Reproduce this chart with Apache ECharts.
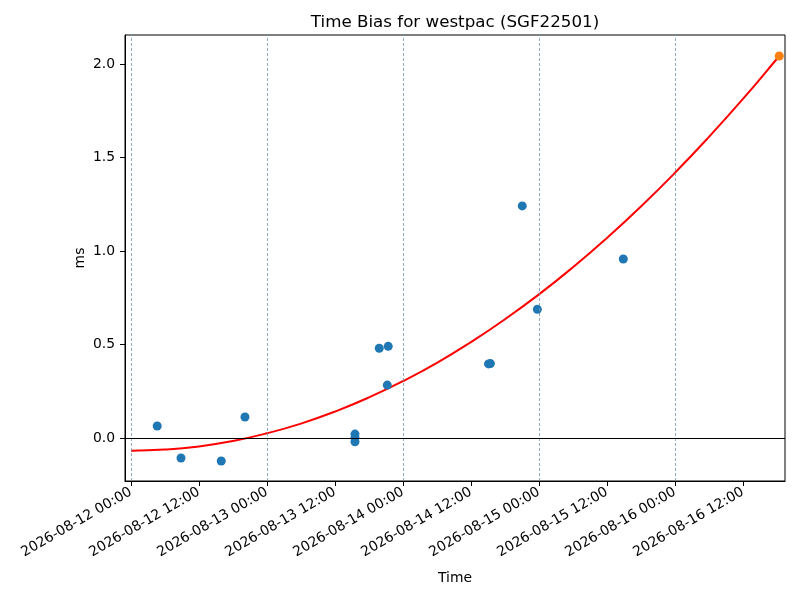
<!DOCTYPE html>
<html>
<head>
<meta charset="utf-8">
<script src="https://cdn.jsdelivr.net/npm/echarts@6/dist/echarts.min.js"></script>
<style>
  html, body { margin: 0; padding: 0; background: #fff; }
  #chart { width: 800px; height: 600px; }
</style>
</head>
<body>
<div id="chart"></div>
<script>
    // measured samples (blue), latest sample (orange), fitted curve (red)
    var sampleTimes = ['2026-08-12 04:38', '2026-08-12 08:50', '2026-08-12 15:56', '2026-08-12 20:07',
        '2026-08-13 15:32', '2026-08-13 15:32', '2026-08-13 15:32', '2026-08-13 19:49',
        '2026-08-13 21:24', '2026-08-13 21:14', '2026-08-14 15:06', '2026-08-14 15:26',
        '2026-08-14 21:03', '2026-08-14 23:43', '2026-08-15 14:53'];
    var sampleBias = [0.064, -0.107, -0.123, 0.112,
        0.021, 0.002, -0.020, 0.480,
        0.490, 0.283, 0.396, 0.398,
        1.241, 0.688, 0.957];
    var latestTime = ['2026-08-16 18:24'];
    var latestBias = [2.043];
    var fitTimes = ['2026-08-12 00:00', '2026-08-12 06:00', '2026-08-12 12:00', '2026-08-12 18:00',
        '2026-08-13 00:00', '2026-08-13 06:00', '2026-08-13 12:00', '2026-08-13 18:00',
        '2026-08-14 00:00', '2026-08-14 06:00', '2026-08-14 12:00', '2026-08-14 18:00',
        '2026-08-15 00:00', '2026-08-15 06:00', '2026-08-15 12:00', '2026-08-15 18:00',
        '2026-08-16 00:00', '2026-08-16 06:00', '2026-08-16 12:00', '2026-08-16 18:00',
        '2026-08-16 18:24'];
    var fitBias = [-0.068, -0.062, -0.045, -0.016,
        0.025, 0.077, 0.141, 0.217,
        0.304, 0.402, 0.513, 0.635,
        0.768, 0.913, 1.070, 1.238,
        1.418, 1.610, 1.813, 2.028,
        2.043];
    var xTicks = ['2026-08-12 00:00', '2026-08-12 12:00', '2026-08-13 00:00', '2026-08-13 12:00',
        '2026-08-14 00:00', '2026-08-14 12:00', '2026-08-15 00:00', '2026-08-15 12:00',
        '2026-08-16 00:00', '2026-08-16 12:00'];
    var dayLines = ['2026-08-12 00:00', '2026-08-13 00:00', '2026-08-14 00:00',
        '2026-08-15 00:00', '2026-08-16 00:00'];
    var yTicks = [0, 0.5, 1.0, 1.5, 2.0];

    function toTs(s) {
        var p = s.split(/[- :]/).map(Number);
        return new Date(p[0], p[1] - 1, p[2], p[3], p[4]).getTime();
    }
    function pad(n) { return (n < 10 ? '0' : '') + n; }
    function zip(ts, vs) {
        return ts.map(function (t, i) { return [toTs(t), vs[i]]; });
    }

    var font = 'DejaVu Sans';
    var chart = echarts.init(document.getElementById('chart'));
    var option = {
        animation: false,
        backgroundColor: '#fff',
        textStyle: { fontFamily: font },
        title: {
            text: 'Time Bias for westpac (SGF22501)',
            left: 450,
            textAlign: 'center',
            top: 9,
            textStyle: { fontFamily: font, fontSize: 16.7, fontWeight: 'normal', color: '#000' }
        },
        grid: {
            left: 125, right: 15, top: 35, bottom: 119,
            show: true, borderColor: '#000', borderWidth: 1
        },
        xAxis: {
            type: 'value',
            scale: true,
            min: toTs('2026-08-11 22:57'),
            max: toTs('2026-08-16 19:25'),
            name: 'Time',
            nameLocation: 'middle',
            nameGap: 90,
            nameMoveOverlap: false,
            nameTextStyle: { fontFamily: font, fontSize: 13.9, color: '#000' },
            axisLine: { onZero: false, lineStyle: { color: '#000', width: 1 } },
            axisTick: { show: true, length: 5, lineStyle: { color: '#000' },
                customValues: xTicks.map(toTs) },
            axisLabel: {
                customValues: xTicks.map(toTs),
                rotate: 30,
                margin: 10,
                fontFamily: font, fontSize: 13.9, color: '#000',
                formatter: function (v) {
                    var d = new Date(v);
                    return d.getFullYear() + '-' + pad(d.getMonth() + 1) + '-' + pad(d.getDate()) +
                        ' ' + pad(d.getHours()) + ':' + pad(d.getMinutes());
                }
            },
            splitLine: { show: false }
        },
        yAxis: {
            type: 'value',
            min: -0.23,
            max: 2.155,
            name: 'ms',
            nameLocation: 'middle',
            nameGap: 38,
            nameMoveOverlap: false,
            nameTextStyle: { fontFamily: font, fontSize: 13.9, color: '#000' },
            axisLine: { show: true, onZero: false, lineStyle: { color: '#000', width: 1 } },
            axisTick: { show: true, length: 5, lineStyle: { color: '#000' }, customValues: yTicks },
            axisLabel: {
                customValues: yTicks,
                margin: 10,
                fontFamily: font, fontSize: 13.9, color: '#000',
                formatter: function (v) { return v.toFixed(1); }
            },
            splitLine: { show: false }
        },
        series: [
            {
                type: 'line',
                data: zip(fitTimes, fitBias),
                smooth: true,
                showSymbol: false,
                symbol: 'none',
                z: 3,
                lineStyle: { color: '#ff0000', width: 2 },
                markLine: {
                    silent: true,
                    symbol: 'none',
                    label: { show: false },
                    data: dayLines.map(function (t) {
                        return { xAxis: toTs(t), lineStyle: { color: '#7a93ad', width: 0.8, type: [3, 2] } };
                    }).concat([{ yAxis: 0, lineStyle: { color: '#000', width: 1, type: 'solid' } }])
                }
            },
            {
                type: 'scatter',
                data: zip(sampleTimes, sampleBias),
                symbolSize: 9,
                z: 4,
                itemStyle: { color: '#1f77b4', opacity: 1 }
            },
            {
                type: 'scatter',
                data: zip(latestTime, latestBias),
                symbolSize: 9,
                z: 5,
                itemStyle: { color: '#ff7f0e', opacity: 1 }
            }
        ]
    };
    chart.setOption(option);
</script>
</body>
</html>
